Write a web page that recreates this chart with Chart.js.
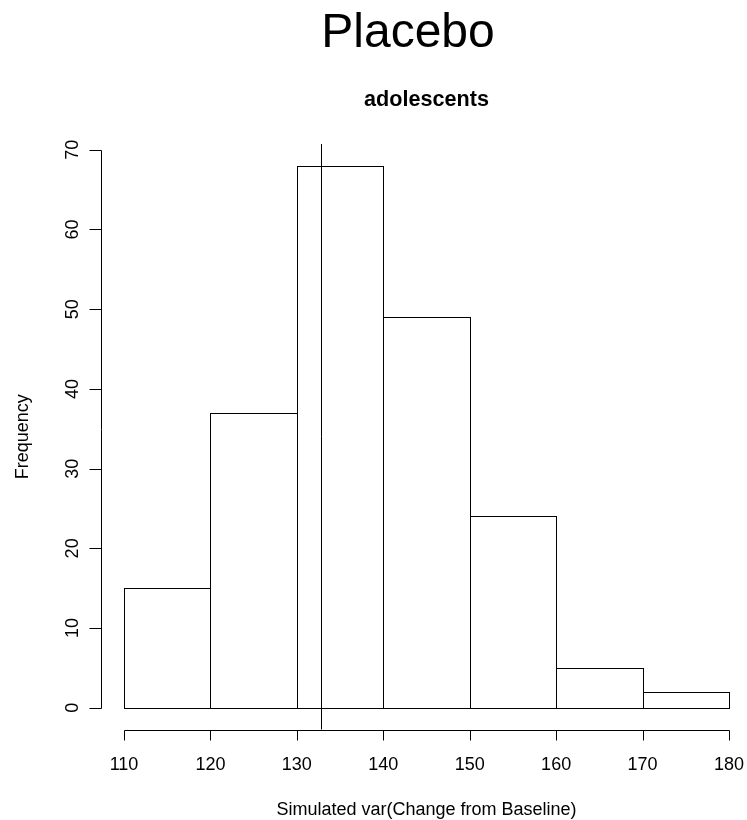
<!DOCTYPE html>
<html>
<head>
<meta charset="utf-8">
<title>Placebo</title>
<script src="https://cdn.jsdelivr.net/npm/chart.js@4/dist/chart.umd.min.js"></script>
<style>
  html, body { margin: 0; padding: 0; background: #fff; }
  #wrap { width: 747px; height: 820px; position: relative; }
</style>
</head>
<body>
<div id="wrap"><canvas id="hist" width="747" height="820"></canvas></div>
<script>
// Histogram bin edges and counts
const breaks = [110, 120, 130, 140, 150, 160, 170, 180];
const counts = [15, 37, 68, 49, 24, 5, 2];
// Reference value marked with a vertical line
const markerValue = 132.75;
// Axis tick labels
const xTicks = [110, 120, 130, 140, 150, 160, 170, 180];
const yTicks = [0, 10, 20, 30, 40, 50, 60, 70];

const mainTitle = 'Placebo';
const subTitle = 'adolescents';
const xTitle = 'Simulated var(Change from Baseline)';
const yTitle = 'Frequency';

const FONT = '"Liberation Sans", Arial, Helvetica, sans-serif';

const binData = counts.map((c, i) => ({ x: (breaks[i] + breaks[i + 1]) / 2, y: c }));

// R-style plot frame: outlined bars, detached axes, rotated y labels, titles
const baseGraphics = {
  id: 'baseGraphics',
  afterDatasetsDraw(chart) {
    const ctx = chart.ctx;
    const xs = chart.scales.x, ys = chart.scales.y;
    const area = chart.chartArea;
    const snap = v => Math.round(v) + 0.5;

    ctx.save();
    ctx.strokeStyle = '#000';
    ctx.fillStyle = '#000';
    ctx.lineWidth = 1;

    // bar outlines (shared edges drawn once)
    const meta = chart.getDatasetMeta(0);
    meta.data.forEach(bar => {
      const l = snap(bar.x - bar.width / 2), r = snap(bar.x + bar.width / 2);
      const t = snap(bar.y), b = snap(bar.base);
      ctx.strokeRect(l, t, r - l, b - t);
    });

    // vertical reference line across the plot region
    const mx = snap(xs.getPixelForValue(markerValue));
    ctx.beginPath();
    ctx.moveTo(mx, area.top);
    ctx.lineTo(mx, area.bottom);
    ctx.stroke();

    // x axis
    const axY = snap(area.bottom);
    ctx.beginPath();
    ctx.moveTo(snap(xs.getPixelForValue(xTicks[0])), axY);
    ctx.lineTo(snap(xs.getPixelForValue(xTicks[xTicks.length - 1])), axY);
    xTicks.forEach(v => {
      const px = snap(xs.getPixelForValue(v));
      ctx.moveTo(px, axY);
      ctx.lineTo(px, axY + 10);
    });
    ctx.stroke();
    ctx.font = '18px ' + FONT;
    ctx.textAlign = 'center';
    ctx.textBaseline = 'alphabetic';
    xTicks.forEach(v => ctx.fillText(String(v), xs.getPixelForValue(v), 770));

    // y axis
    const axX = snap(area.left);
    ctx.beginPath();
    ctx.moveTo(axX, snap(ys.getPixelForValue(yTicks[0])));
    ctx.lineTo(axX, snap(ys.getPixelForValue(yTicks[yTicks.length - 1])));
    yTicks.forEach(v => {
      const py = snap(ys.getPixelForValue(v));
      ctx.moveTo(axX, py);
      ctx.lineTo(axX - 12, py);
    });
    ctx.stroke();
    yTicks.forEach(v => {
      ctx.save();
      ctx.translate(78, ys.getPixelForValue(v));
      ctx.rotate(-Math.PI / 2);
      ctx.fillText(String(v), 0, 0);
      ctx.restore();
    });

    // axis titles, centred on the full plot region
    const plotCx = (xs.getPixelForValue(107.2) + xs.getPixelForValue(182.8)) / 2;
    ctx.fillText(xTitle, plotCx, 815);
    ctx.save();
    ctx.translate(28, (area.top + area.bottom) / 2);
    ctx.rotate(-Math.PI / 2);
    ctx.fillText(yTitle, 0, 0);
    ctx.restore();

    // titles
    ctx.font = 'bold 21.6px ' + FONT;
    ctx.fillText(subTitle, plotCx, 106);
    ctx.font = '48px ' + FONT;
    ctx.fillText(mainTitle, 408, 47);

    ctx.restore();
  }
};

new Chart(document.getElementById('hist'), {
  type: 'bar',
  data: {
    datasets: [{
      data: binData,
      backgroundColor: '#ffffff',
      borderWidth: 0,
      barPercentage: 1,
      categoryPercentage: 1
    }]
  },
  options: {
    responsive: false,
    animation: false,
    devicePixelRatio: 1,
    layout: { padding: { left: 101, top: 144, right: 0, bottom: 90.5 } },
    plugins: { legend: { display: false }, tooltip: { enabled: false }, title: { display: false } },
    scales: {
      x: { type: 'linear', display: false, offset: false, min: 107.339, max: 182.083 },
      y: { type: 'linear', display: false, min: -2.72, max: 70.72 }
    }
  },
  plugins: [baseGraphics]
});
</script>
</body>
</html>
